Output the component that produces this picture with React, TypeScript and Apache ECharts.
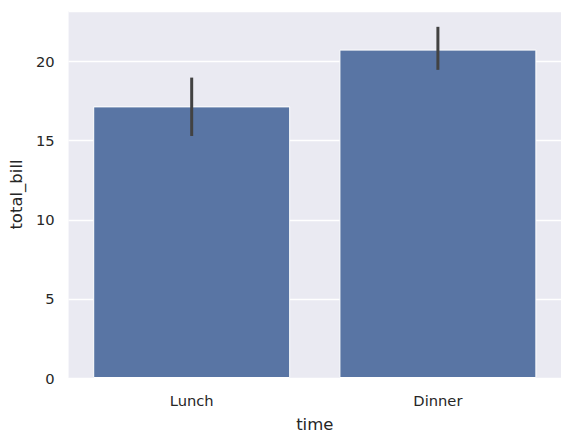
import React, { useEffect, useRef } from "react";
import * as echarts from "echarts";

const categories = ["Lunch", "Dinner"];
const means = [17.17, 20.76];
const ciLow = [15.3, 19.48];
const ciHigh = [18.99, 22.2];
const yTicks = [0, 5, 10, 15, 20];

export default function App() {
  const ref = useRef<HTMLDivElement>(null);
  useEffect(() => {
    const chart = echarts.init(ref.current!, null, { renderer: "svg" });
    const errData = categories.map((c, i) => [i, ciLow[i], ciHigh[i]]);
    chart.setOption({
      animation: false,
      textStyle: { fontFamily: "DejaVu Sans" },
      grid: { left: 67, right: 11, top: 11, bottom: 63, backgroundColor: "#EAEAF2", show: true, borderWidth: 0 },
      xAxis: {
        type: "category",
        data: categories,
        name: "time",
        nameLocation: "middle",
        nameGap: 38,
        nameTextStyle: { fontSize: 16.5, color: "#262626" },
        axisLine: { show: false },
        axisTick: { show: false },
        axisLabel: { fontSize: 14.7, color: "#262626", margin: 15 },
      },
      yAxis: {
        type: "value",
        min: 0,
        max: 23.2,
        interval: 5,
        name: "total_bill",
        nameLocation: "middle",
        nameGap: 42,
        nameTextStyle: { fontSize: 16.5, color: "#262626" },
        axisLine: { show: false },
        axisTick: { show: false },
        axisLabel: {
          fontSize: 14.7,
          color: "#262626",
          margin: 14,
          formatter: (v: number) => (yTicks.includes(v) ? String(v) : ""),
        },
        splitLine: { show: true, lineStyle: { color: "#ffffff", width: 1.3 } },
      },
      series: [
        {
          type: "bar",
          data: means,
          barCategoryGap: "20%",
          itemStyle: { color: "#5975a4", borderColor: "#ffffff", borderWidth: 1 },
          z: 2,
        },
        {
          type: "custom",
          data: errData,
          z: 3,
          renderItem: (params: any, api: any) => {
            const x = api.value(0);
            const p1 = api.coord([x, api.value(1)]);
            const p2 = api.coord([x, api.value(2)]);
            return {
              type: "line",
              shape: { x1: p1[0], y1: p1[1], x2: p2[0], y2: p2[1] },
              style: { stroke: "#424242", lineWidth: 3 },
            };
          },
        },
      ],
    });
    return () => chart.dispose();
  }, []);
  return <div ref={ref} style={{ width: 572, height: 441, position: "absolute", left: 0, top: 0 }} />;
}
